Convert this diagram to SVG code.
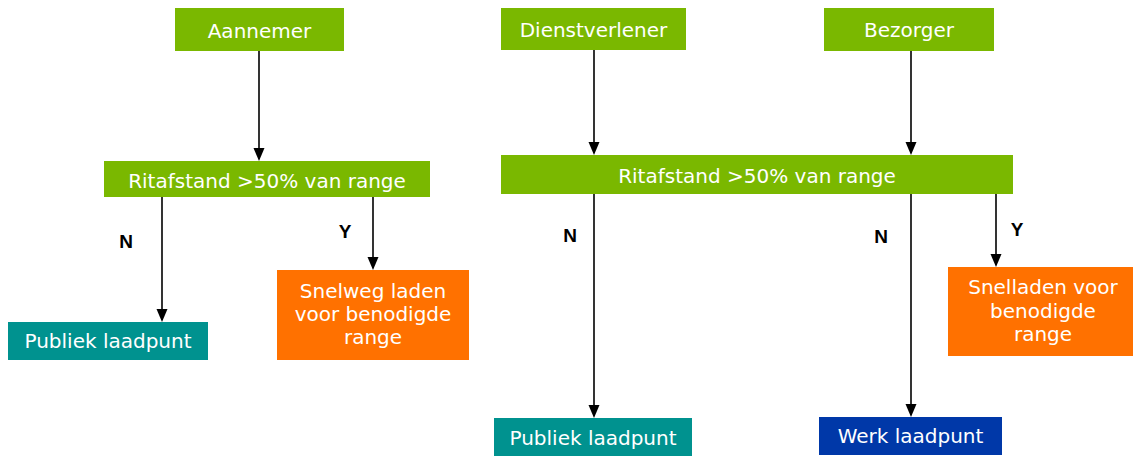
<svg xmlns="http://www.w3.org/2000/svg" width="1133" height="456" viewBox="0 0 1133 456">
<style>
.green{fill:#7ab800}
.teal{fill:#00928f}
.orange{fill:#ff7100}
.blue{fill:#0038a8}
.lbl{font-family:"DejaVu Sans",Verdana,sans-serif;font-size:20px;fill:#fff;text-anchor:middle}
.yn{font-family:"Liberation Sans",Arial,sans-serif;font-size:19px;font-weight:bold;fill:#000;text-anchor:middle}
.conn{stroke:#000;stroke-width:1.6;fill:none}
.head{fill:#000}
</style>
<rect width="1133" height="456" fill="#fff"/>
<g id="connectors">
<line class="conn" x1="259" y1="51" x2="259" y2="150"/>
<path class="head" d="M253.5,148 L264.5,148 L259,161 Z"/>
<line class="conn" x1="162" y1="197" x2="162" y2="311"/>
<path class="head" d="M156.5,309 L167.5,309 L162,322 Z"/>
<line class="conn" x1="373" y1="197" x2="373" y2="259"/>
<path class="head" d="M367.5,257 L378.5,257 L373,270 Z"/>
<line class="conn" x1="594" y1="50" x2="594" y2="144"/>
<path class="head" d="M588.5,142 L599.5,142 L594,155 Z"/>
<line class="conn" x1="911" y1="51" x2="911" y2="144"/>
<path class="head" d="M905.5,142 L916.5,142 L911,155 Z"/>
<line class="conn" x1="594" y1="194" x2="594" y2="407"/>
<path class="head" d="M588.5,405 L599.5,405 L594,418 Z"/>
<line class="conn" x1="911" y1="194" x2="911" y2="406"/>
<path class="head" d="M905.5,404 L916.5,404 L911,417 Z"/>
<line class="conn" x1="996" y1="194" x2="996" y2="256"/>
<path class="head" d="M990.5,254 L1001.5,254 L996,267 Z"/>
<text class="yn" x="126" y="248">N</text>
<text class="yn" x="345" y="238">Y</text>
<text class="yn" x="570" y="242">N</text>
<text class="yn" x="881" y="243">N</text>
<text class="yn" x="1017" y="236">Y</text>
</g>
<g id="aannemer">
<rect class="green" x="175" y="8" width="169" height="43"/>
<text class="lbl" x="259.5" y="38">Aannemer</text>
</g>
<g id="rit-left">
<rect class="green" x="104" y="161" width="326" height="36"/>
<text class="lbl" x="267" y="188">Ritafstand &gt;50% van range</text>
</g>
<g id="publiek-left">
<rect class="teal" x="8" y="322" width="200" height="38"/>
<text class="lbl" x="108" y="348">Publiek laadpunt</text>
</g>
<g id="snelweg">
<rect class="orange" x="277" y="270" width="192" height="90"/>
<text class="lbl" x="373" y="298">Snelweg laden</text>
<text class="lbl" x="373" y="321">voor benodigde</text>
<text class="lbl" x="373" y="344">range</text>
</g>
<g id="dienstverlener">
<rect class="green" x="501" y="8" width="185" height="42"/>
<text class="lbl" x="593.5" y="37">Dienstverlener</text>
</g>
<g id="bezorger">
<rect class="green" x="824" y="8" width="170" height="43"/>
<text class="lbl" x="909" y="37">Bezorger</text>
</g>
<g id="rit-right">
<rect class="green" x="501" y="155" width="512" height="39"/>
<text class="lbl" x="757" y="183">Ritafstand &gt;50% van range</text>
</g>
<g id="publiek-right">
<rect class="teal" x="494" y="418" width="198" height="38"/>
<text class="lbl" x="593" y="445">Publiek laadpunt</text>
</g>
<g id="werk">
<rect class="blue" x="819" y="417" width="183" height="38"/>
<text class="lbl" x="910.5" y="443">Werk laadpunt</text>
</g>
<g id="snelladen">
<rect class="orange" x="948" y="267" width="185" height="89"/>
<text class="lbl" x="1043" y="294">Snelladen voor</text>
<text class="lbl" x="1043" y="318">benodigde</text>
<text class="lbl" x="1043" y="341">range</text>
</g>
</svg>
